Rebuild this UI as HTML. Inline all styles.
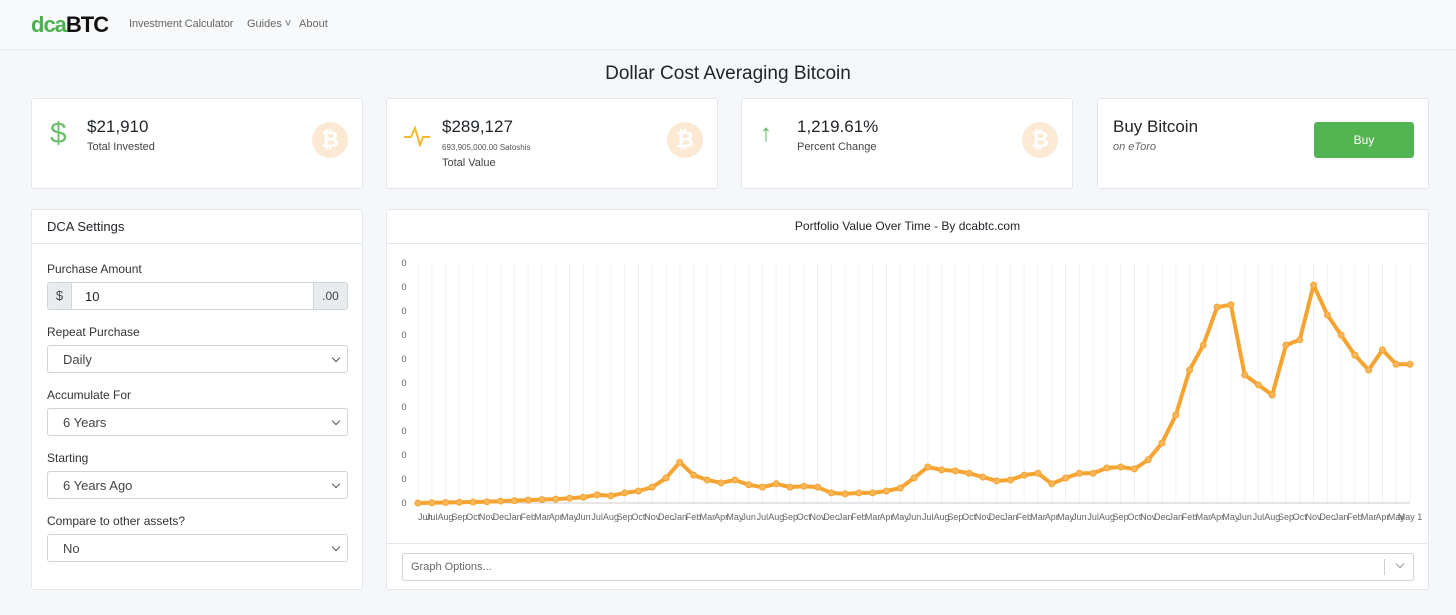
<!DOCTYPE html>
<html><head><meta charset="utf-8">
<style>
*{box-sizing:border-box}
body{margin:0;width:1456px;height:615px;overflow:hidden;background:#f5f7fa;font-family:"Liberation Sans",sans-serif;color:#212529;position:relative}
.abs{position:absolute}
.card{position:absolute;background:#fff;border:1px solid #e3e6ea;border-radius:3px}
.nav{position:absolute;left:0;top:0;width:1456px;height:50px;background:#f8f9fb;border-bottom:1px solid #e6e8ec}
.lbl{font-size:12px;color:#333}
.sel{position:absolute;left:15px;width:301px;height:28px;border:1px solid #ced4da;border-radius:3px;font-size:13px;color:#444;padding:6px 15px;background:#fff}
.sel:after{content:"";position:absolute;right:8px;top:9px;width:5px;height:5px;border-right:1.5px solid #555;border-bottom:1.5px solid #555;transform:rotate(45deg)}
.btc{position:absolute;width:36px;height:36px;border-radius:50%;background:#fce9d3;color:#fff;font-weight:bold;font-size:22px;text-align:center;line-height:36px}
</style></head><body>
<div class="nav">
  <div class="abs" style="left:31px;top:12px;font-size:22px;font-weight:bold;letter-spacing:-1px"><span style="color:#4caf50">dca</span><span style="color:#111">BTC</span></div>
  <div class="abs" style="left:129px;top:18px;font-size:11px;color:#666;letter-spacing:-0.1px">Investment Calculator</div>
  <div class="abs" style="left:247px;top:18px;font-size:11px;color:#666">Guides ˅</div>
  <div class="abs" style="left:299px;top:18px;font-size:11px;color:#666">About</div>
</div>
<div class="abs" style="left:0;width:1456px;top:63px;text-align:center;font-size:19px">Dollar Cost Averaging Bitcoin</div>

<div class="card" style="left:31px;top:98px;width:332px;height:91px">
  <div class="abs" style="left:18px;top:18px;font-size:30px;color:#6cbf6c">$</div>
  <div class="abs" style="left:55px;top:18px;font-size:17px">$21,910</div>
  <div class="abs" style="left:55px;top:42px;font-size:11px;color:#444">Total Invested</div>
  <div class="btc" style="left:280px;top:23px">₿</div>
</div>
<div class="card" style="left:386px;top:98px;width:332px;height:91px">
  <svg class="abs" style="left:16px;top:26px" width="28" height="22"><polyline points="1,12 8,12 12,3 17,20 20,12 27,12" fill="none" stroke="#f5b82e" stroke-width="2"/></svg>
  <div class="abs" style="left:55px;top:18px;font-size:17px">$289,127</div>
  <div class="abs" style="left:55px;top:44px;font-size:8px;color:#555">693,905,000.00 Satoshis</div>
  <div class="abs" style="left:55px;top:58px;font-size:11px;color:#444">Total Value</div>
  <div class="btc" style="left:280px;top:23px">₿</div>
</div>
<div class="card" style="left:741px;top:98px;width:332px;height:91px">
  <div class="abs" style="left:18px;top:21px;font-size:24px;color:#5cb85c">↑</div>
  <div class="abs" style="left:55px;top:18px;font-size:17px">1,219.61%</div>
  <div class="abs" style="left:55px;top:42px;font-size:11px;color:#444">Percent Change</div>
  <div class="btc" style="left:280px;top:23px">₿</div>
</div>
<div class="card" style="left:1097px;top:98px;width:332px;height:91px">
  <div class="abs" style="left:15px;top:18px;font-size:17px">Buy Bitcoin</div>
  <div class="abs" style="left:15px;top:42px;font-size:11px;color:#666;font-style:italic">on eToro</div>
  <div class="abs" style="left:216px;top:23px;width:100px;height:36px;background:#52b552;border-radius:3px;color:#fff;font-size:12px;text-align:center;line-height:36px">Buy</div>
</div>

<div class="card" style="left:31px;top:209px;width:332px;height:381px">
  <div class="abs" style="left:0;top:0;width:330px;height:34px;border-bottom:1px solid #e3e6ea;padding:9px 15px;font-size:13px">DCA Settings</div>
  <div class="abs lbl" style="left:15px;top:52px">Purchase Amount</div>
  <div class="abs" style="left:15px;top:72px;width:301px;height:28px;border:1px solid #ced4da;border-radius:3px;font-size:13px">
    <div class="abs" style="left:0;top:0;width:24px;height:26px;background:#e9ecef;border-right:1px solid #ced4da;text-align:center;line-height:26px;color:#444">$</div>
    <div class="abs" style="left:37px;top:6px">10</div>
    <div class="abs" style="right:0;top:0;width:34px;height:26px;background:#e9ecef;border-left:1px solid #ced4da;text-align:center;line-height:26px;color:#444;font-size:12px">.00</div>
  </div>
  <div class="abs lbl" style="left:15px;top:115px">Repeat Purchase</div>
  <div class="sel" style="top:135px">Daily</div>
  <div class="abs lbl" style="left:15px;top:178px">Accumulate For</div>
  <div class="sel" style="top:198px">6 Years</div>
  <div class="abs lbl" style="left:15px;top:241px">Starting</div>
  <div class="sel" style="top:261px">6 Years Ago</div>
  <div class="abs lbl" style="left:15px;top:304px">Compare to other assets?</div>
  <div class="sel" style="top:324px">No</div>
</div>

<div class="card" style="left:386px;top:209px;width:1043px;height:381px">
  <div class="abs" style="left:0;top:0;width:1041px;height:34px;border-bottom:1px solid #e3e6ea;text-align:center;padding-top:9px;font-size:12px">Portfolio Value Over Time - By dcabtc.com</div>
  <div class="abs" style="left:0;top:333px;width:1041px;height:1px;background:#e3e6ea"></div>
  <div class="abs" style="left:15px;top:343px;width:1012px;height:28px;border:1px solid #ced4da;border-radius:3px;font-size:11px;color:#666;padding:7px 8px">Graph Options...
    <div class="abs" style="right:28px;top:5px;width:1px;height:16px;background:#ccc"></div>
    <div class="abs" style="right:10px;top:7px;width:6px;height:6px;border-right:1.5px solid #999;border-bottom:1.5px solid #999;transform:rotate(45deg)"></div>
  </div>
</div>
<svg id="chart" class="abs" style="left:0;top:0" width="1456" height="615"></svg>
<script>
const months=["Jun","Jul","Aug","Sep","Oct","Nov","Dec","Jan","Feb","Mar","Apr","May"];
const values=[0,0.5,1,1.5,2,2.5,4,5,6,7,8,10,12,17,15,21,25,33,52,85,58,48,42,48,38,33,40,33,35,33,21,19,21,21,25,31,52,75,69,67,62,54,46,48,58,62,40,52,62,62,73,75,71,90,125,183,277,329,408,413,267,246,225,329,340,454,392,350,308,277,319,289,289];
const yTicks=[0,50,100,150,200,250,300,350,400,450,500];
const yTickLabels=["0","0","0","0","0","0","0","0","0","0","0"];
const svg=document.getElementById('chart');const NS='http://www.w3.org/2000/svg';
const x0=418,x1=1410,yb=503,yt=263,vmax=500;
const X=i=>x0+(x1-x0)*i/(values.length-1);
const Y=v=>yb-(yb-yt)*v/vmax;
function mk(t,a){const e=document.createElementNS(NS,t);for(const k in a)e.setAttribute(k,a[k]);svg.appendChild(e);return e;}
for(let i=0;i<values.length;i++){
  const g=mk('line',{x1:X(i),x2:X(i),y1:yt,y2:yb,stroke:'#f0f1f3','stroke-width':1});
  
  
  const lab=i==values.length-1?"May 1":months[i%12];
  const t=mk('text',{x:X(i),y:520,'font-size':9,fill:'#666','text-anchor':i==0?'start':'middle','font-family':'Liberation Sans, sans-serif'});
  t.textContent=lab;
  
  
}
yTicks.forEach((v,i)=>{
  const t=mk('text',{x:404,y:Y(v)+3,'font-size':9,fill:'#666','text-anchor':'middle','font-family':'Liberation Sans, sans-serif'});
  t.textContent=yTickLabels[i];
  
  
});
const ax=mk('line',{x1:x0-4,x2:x1,y1:yb,y2:yb,stroke:'#ccc','stroke-width':1});


const pl=mk('polyline',{points:values.map((v,i)=>X(i)+','+Y(v)).join(' '),fill:'none',stroke:'#f5a431','stroke-width':4,'stroke-linejoin':'round'});


values.forEach((v,i)=>{
  const c=mk('circle',{cx:X(i),cy:Y(v),r:3,fill:'#f7b65a',stroke:'#f5a431','stroke-width':1});
  
  
});
</script>
</body></html>
